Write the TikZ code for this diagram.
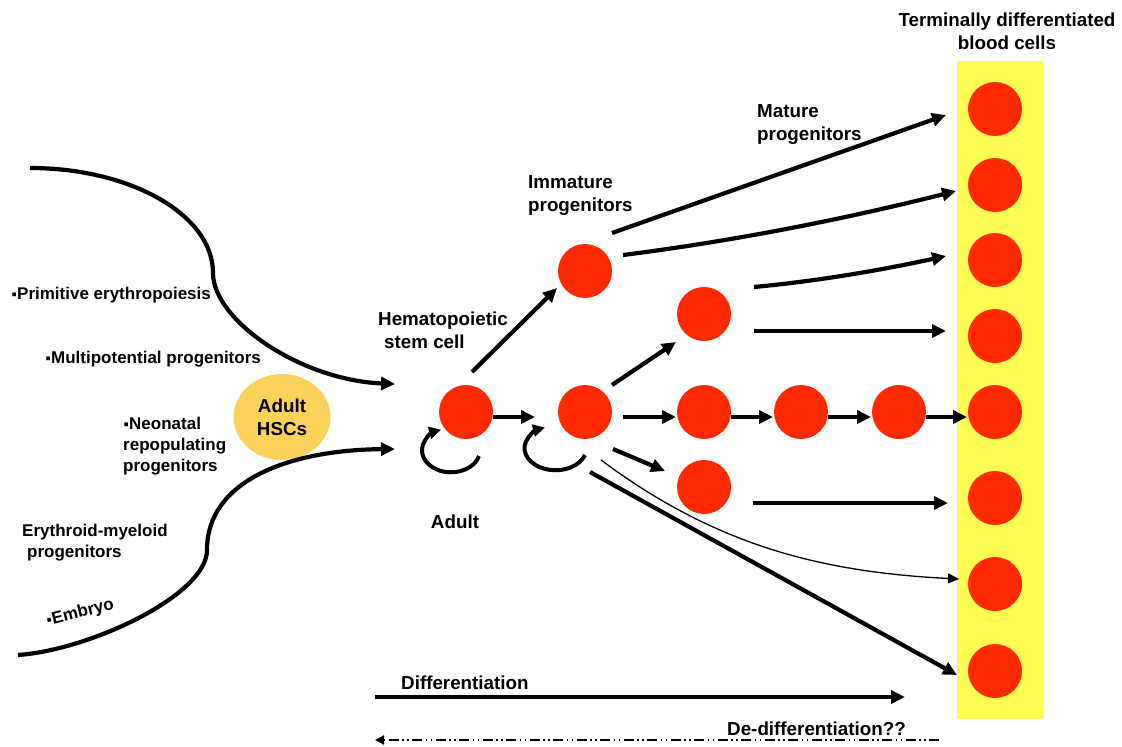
\documentclass[tikz,border=0pt]{standalone}
\usepackage{fontspec}
\setmainfont{Liberation Sans}
\usetikzlibrary{calc,arrows.meta,positioning,shapes.geometric}
\definecolor{cellRed}{RGB}{255,42,0}
\definecolor{columnYellow}{RGB}{255,252,82}
\definecolor{hscGold}{RGB}{253,210,90}
\newcommand{\leftfont}{\fontsize{17}{21}\selectfont\bfseries}
\newcommand{\labfont}{\fontsize{18.8}{23}\selectfont\bfseries}
\newcommand{\sqbullet}{\makebox[6pt][c]{\fontsize{15}{15}\selectfont ▪}}

\begin{document}
\begin{tikzpicture}[x=1pt,y=-1pt,
  cell/.style={circle,fill=cellRed,minimum size=54pt,inner sep=0pt},
  hscblob/.style={ellipse,fill=hscGold,minimum width=97pt,minimum height=86pt,inner sep=0pt,font=\labfont,align=center},
  flow/.style={line width=4.2pt,-{Triangle[length=14pt,width=13pt]}},
  thinflow/.style={line width=1.3pt,-{Triangle[length=11pt,width=10pt]}},
  selfloop/.style={line width=4pt,-{Triangle[length=12pt,width=12pt]}},
  lab/.style={font=\labfont,align=left,inner sep=0pt,anchor=west},
  sidelab/.style={font=\leftfont,align=left,inner sep=0pt,anchor=west}]
\useasboundingbox[fill=white] (0,0) rectangle (1122,747);

% column of terminally differentiated cells
\fill[columnYellow] (957,61) rectangle (1043,719);
\foreach \i/\yy in {1/109,2/185,3/260,4/336,5/412,6/498,7/584,8/671}
  \node[cell] (t\i) at (995,\yy) {};

% stem cell and progenitors
\node[cell] (hsc) at (466,412) {};
\node[cell] (mpp) at (585,412) {};
\node[cell] (imm) at (585,271) {};
\node[cell] (up) at (704,314) {};
\node[cell] (low) at (704,487) {};
\foreach \n/\xx in {r1/704,r2/801,r3/899}
  \node[cell] (\n) at (\xx,412) {};
\node[hscblob] (ahsc) at (282,417) {Adult\\HSCs};

% sources on the left
\coordinate (primstart) at (30,168);
\coordinate (embstart) at (18,655);
\draw[flow] (primstart) .. controls (131,168) and (213,215) .. (213,273)
  .. controls (213,320) and (300,380) .. ($(hsc)+(-71,-28)$);
\draw[flow] (embstart) .. controls (90,650) and (207,595) .. (207,550)
  .. controls (207,480) and (290,450) .. ($(hsc)+(-71,37)$);

% self renewal
\draw[selfloop] ($(hsc)+(13,44)$) arc[start angle=15,end angle=250,x radius=29,y radius=22];
\draw[selfloop] ($(mpp)+(0,43)$) arc[start angle=18,end angle=250,x radius=31,y radius=22];

% differentiation steps
\draw[flow] ($(hsc)+(27,5)$) -- ($(mpp)+(-50,5)$);
\draw[flow] ($(hsc)+(6,-40)$) -- ($(imm)+(-28,17)$);
\draw[flow] ($(mpp)+(27,-27)$) -- ($(up)+(-28,28)$);
\draw[flow] ($(mpp)+(38,5)$) -- ($(r1)+(-28,5)$);
\foreach \a/\b in {r1/r2,r2/r3,r3/t5}
  \draw[flow] ($(\a)+(27,5)$) -- ($(\b)+(-28,5)$);
\draw[flow] ($(mpp)+(28,37)$) -- ($(low)+(-39,-16)$);
\draw[thinflow] ($(mpp)+(16,48)$) .. controls +(114,85) and +(-139,-7) .. ($(t7)+(-36,-5)$);
\draw[flow] ($(mpp)+(5,60)$) -- ($(t8)+(-38,4)$);
\draw[flow] ($(imm)+(27,-38)$) -- ($(t1)+(-49,6)$);
\draw[flow] ($(imm)+(38,-16)$) .. controls +(111,-14) and +(-111,28) .. ($(t2)+(-39,6)$);
\draw[flow] ($(up)+(50,-27)$) .. controls +(64,-6) and +(-64,14) .. ($(t3)+(-49,-4)$);
\draw[flow] ($(up)+(50,17)$) -- ($(t4)+(-49,-5)$);
\draw[flow] ($(low)+(49,16)$) -- ($(t6)+(-47,5)$);

% labels
\node[sidelab] (prim) at (11,295) {\sqbullet Primitive erythropoiesis};
\node[sidelab] (multi) at (45,359) {\sqbullet Multipotential progenitors};
\node[sidelab] (neo) at (123,446) {\sqbullet Neonatal\\repopulating\\progenitors};
\node[sidelab] (emp) at (22,543) {Erythroid-myeloid\\\hspace*{5pt}progenitors};
\node[sidelab,rotate=14,anchor=center] (emb) at (80,613) {\sqbullet Embryo};
\node[lab] (hsclab) at (378,330) {Hematopoietic\\\hspace*{6pt}stem cell};
\node[lab] (immlab) at (528,196) {Immature\\progenitors};
\node[lab] (matlab) at (757,125) {Mature\\progenitors};
\node[lab,align=center,anchor=center] (termlab) at (1007,31) {Terminally differentiated\\blood cells};
\node[lab,anchor=center] (adultlab) at (455,522) {Adult};

% direction of the hierarchy
\coordinate (diffstart) at (375,697);
\coordinate (diffend) at (905,697);
\draw[flow] (diffstart) -- (diffend);
\node[lab] (difflab) at (401,683) {Differentiation};
\coordinate (dedstart) at (939,740);
\coordinate (dedend) at (375,740);
\draw[line width=2pt,dash pattern=on 10pt off 3.5pt on 1.5pt off 3.5pt on 1.5pt off 3.5pt,
  -{Triangle[length=9pt,width=9pt]}] (dedstart) -- (dedend);
\node[lab,anchor=east] (dedifflab) at (906,729) {De-differentiation??};
\end{tikzpicture}
\end{document}
